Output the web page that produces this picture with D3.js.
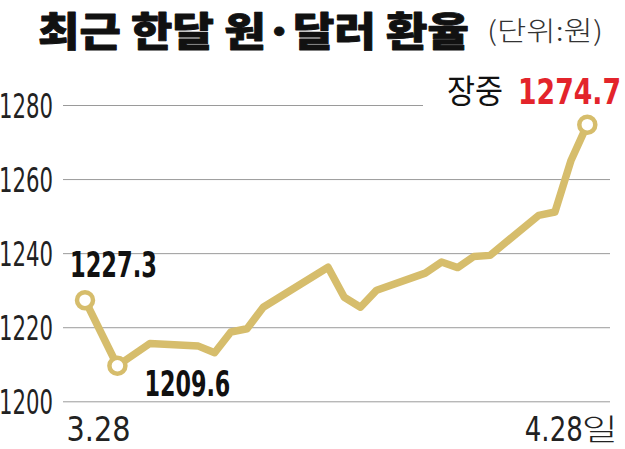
<!DOCTYPE html>
<html>
<head>
<meta charset="utf-8">
<script src="https://cdn.jsdelivr.net/npm/d3@7"></script>
<style>
html,body{margin:0;padding:0;background:#fff;}
svg{display:block;}
</style>
</head>
<body>
<script>
// ---- data ----
const dates = ["2022-03-28","2022-03-30","2022-04-01","2022-04-04","2022-04-05","2022-04-06","2022-04-07","2022-04-08",
  "2022-04-12","2022-04-13","2022-04-14","2022-04-15","2022-04-18","2022-04-19","2022-04-20","2022-04-21","2022-04-22",
  "2022-04-25","2022-04-26","2022-04-27","2022-04-28"];
const rates = [1227.3,1209.6,1215.6,1214.9,1213.1,1218.7,1219.6,1225.4,
  1236.2,1228.1,1225.4,1230.0,1234.6,1237.6,1236.1,1239.1,1239.4,
  1250.2,1251.1,1265.1,1274.7];
const yTicks = [1200,1220,1240,1260,1280];
const xTickLabels = ["3.28","4.28"];
const xUnit = "일";
const title = "최근 한달 원·달러 환율";
const unitText = "(단위:원)";
const intradayText = "장중";
const highlight = [0,1,20]; // indices of circled points

const W=625,H=449;
const parse = d3.timeParse("%Y-%m-%d");
const data = dates.map((d,i)=>({date:parse(d), v:rates[i]}));

const svg = d3.select("body").append("svg").attr("width",W).attr("height",H);

const x = d3.scaleTime().domain([data[0].date, data[data.length-1].date]).range([85,587.3]);
const y = d3.scaleLinear().domain([1200,1280]).range([401.3,105]);

const gold = "#d6bd6c";
const narrow = "'Liberation Sans Narrow','DejaVu Sans Condensed',sans-serif";
const kr = "'Noto Sans CJK KR',sans-serif";

// squeeze a text horizontally to a given width with a transform
function fit(t, left, baseline, width){
  t.attr("x",0).attr("y",0).attr("dy",null).attr("text-anchor","start");
  const w = t.node().getComputedTextLength();
  t.attr("transform",`translate(${left},${baseline}) scale(${width/w},1)`);
  return t;
}

// title
fit(svg.append("text").attr("font-family",kr).attr("font-weight",900)
  .attr("font-size",39.5).attr("fill","#111")
  .attr("stroke","#111").attr("stroke-width",0.9).attr("stroke-linejoin","round")
  .text(title), 38, 46, 431);
fit(svg.append("text").attr("font-family",kr).attr("font-weight",300)
  .attr("font-size",27).attr("fill","#333").text(unitText), 487, 41, 116);

// y axis + grid
const yAxis = d3.axisLeft(y).tickValues(yTicks).tickSize(-547).tickPadding(0).tickFormat(d3.format("d"));
const gy = svg.append("g").attr("transform","translate(63,0)").call(yAxis);
gy.select(".domain").remove();
gy.selectAll(".tick line").attr("stroke","#9a9a9a").attr("stroke-width",1);
gy.selectAll(".tick").filter(d=>d===1280).select("line").attr("x2",360);
gy.selectAll(".tick text")
  .attr("font-family",narrow).attr("font-size",33).attr("font-weight",400).attr("fill","#222")
  .each(function(){ fit(d3.select(this), -64, 12, 54); });

// x axis labels
const xAxis = d3.axisBottom(x).tickValues([data[0].date, data[data.length-1].date]).tickSize(0)
  .tickFormat((d,i)=>xTickLabels[i]);
const gx = svg.append("g").attr("transform","translate(0,401.3)").call(xAxis);
gx.select(".domain").remove();
gx.selectAll(".tick text")
  .attr("font-family",narrow).attr("font-size",34.5).attr("fill","#222")
  .each(function(d,i){
    if(i===0) fit(d3.select(this), -19, 39.3, 64);
    else fit(d3.select(this), -63, 39.3, 58);
  });
// unit "일" right after the last tick label
const unitT = gx.selectAll(".tick").filter((d,i)=>i===1).append("text")
  .attr("font-family",kr).attr("font-weight",300).attr("font-size",30).attr("fill","#222")
  .text(xUnit);
fit(unitT, -6, 38.5, 36);

// line
const line = d3.line().x(d=>x(d.date)).y(d=>y(d.v));
svg.append("path").datum(data).attr("d",line)
  .attr("fill","none").attr("stroke",gold).attr("stroke-width",7.5)
  .attr("stroke-linejoin","round").attr("stroke-linecap","round");

svg.selectAll("circle.pt").data(highlight.map(i=>data[i])).join("circle")
  .attr("class","pt").attr("cx",d=>x(d.date)).attr("cy",d=>y(d.v)).attr("r",8)
  .attr("fill","#fff").attr("stroke",gold).attr("stroke-width",4.5);

// value labels
function bold(txt,xx,yy,len,col){
  return fit(svg.append("text").attr("font-family",narrow).attr("font-weight",700)
    .attr("font-size",35).attr("fill",col||"#111").text(txt), xx, yy, len);
}
const f1 = d3.format(".1f");
bold(f1(data[0].v), x(data[0].date)-15, y(data[0].v)-23, 87);
bold(f1(data[1].v), x(data[1].date)+27, y(data[1].v)+30, 86);
fit(svg.append("text").attr("font-family",kr).attr("font-weight",400)
  .attr("font-size",33).attr("fill","#111").text(intradayText), 447, 103, 56);
bold(f1(data[20].v), 518, 104, 103, "#e3242b");
</script>
</body>
</html>
